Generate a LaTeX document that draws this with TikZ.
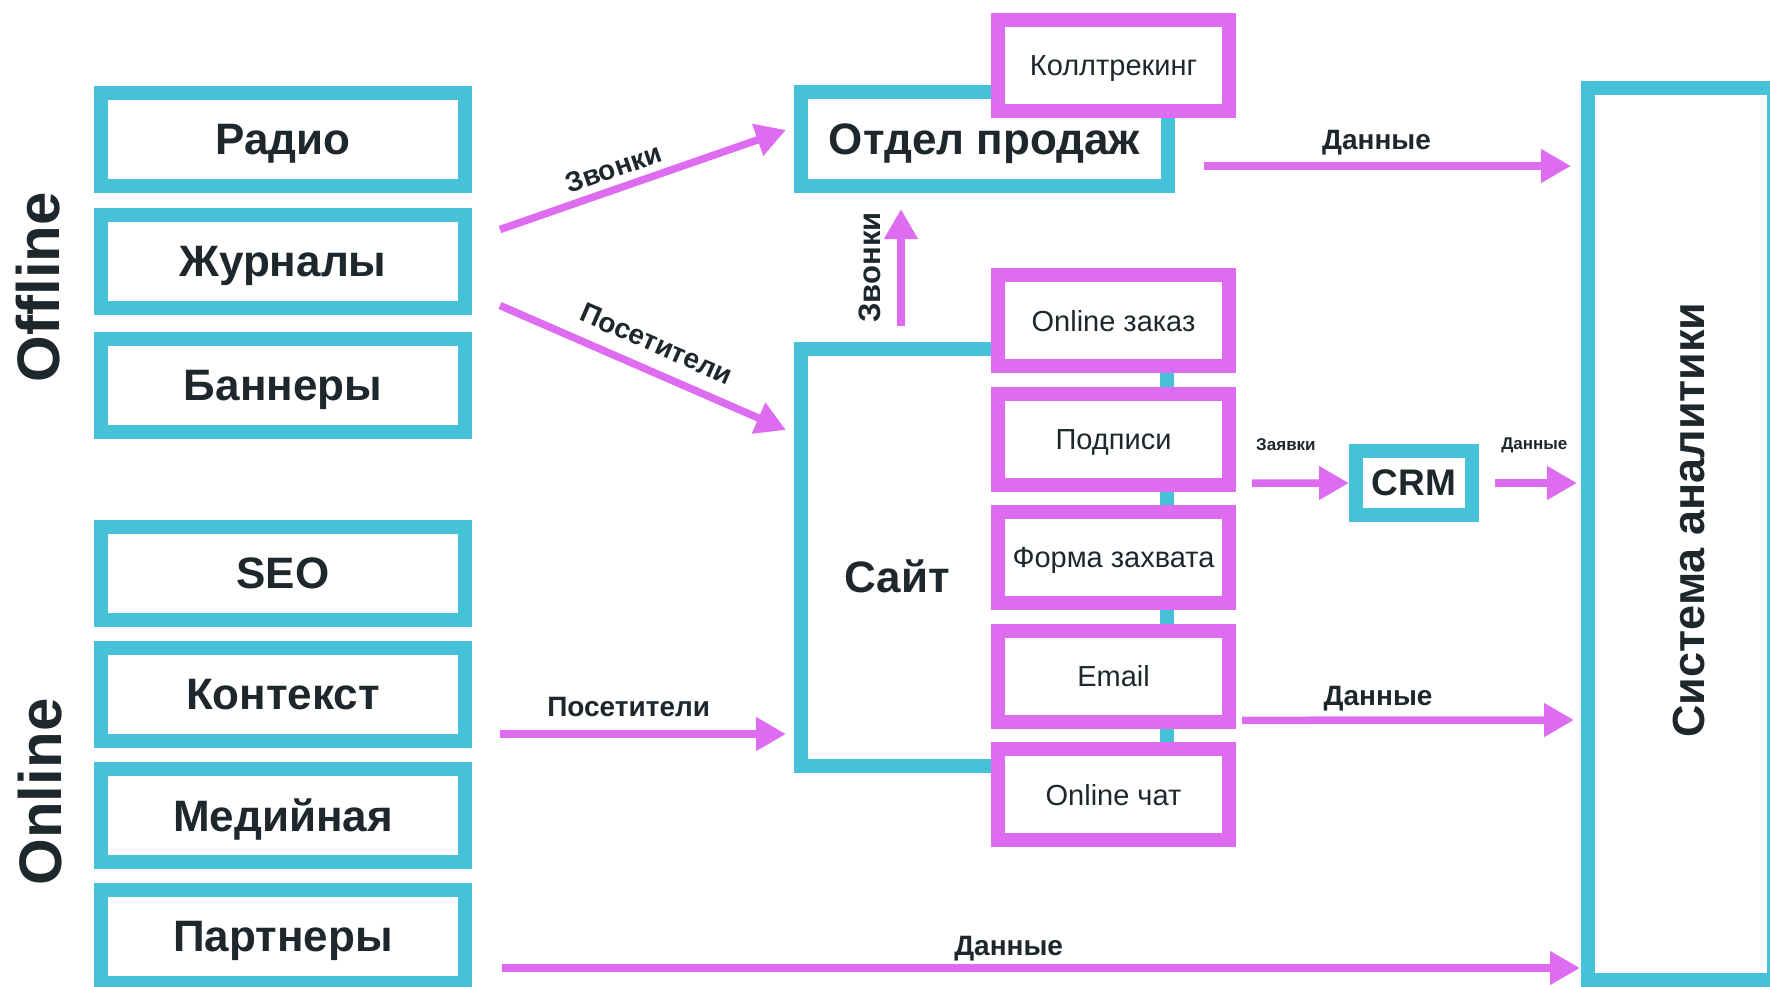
\documentclass[tikz,border=0pt]{standalone}
\usepackage{fontspec}
\setmainfont{Liberation Sans}
\usetikzlibrary{arrows.meta,positioning}
\definecolor{boxcyan}{HTML}{46C2D8}
\definecolor{linkpink}{HTML}{DD6CF0}
\definecolor{inkdark}{HTML}{1E282C}
\newcommand{\fsz}[1]{\fontsize{#1}{#1}\selectfont}

\begin{document}
\begin{tikzpicture}[
  x=1pt, y=-1pt,
  chan/.style={draw=boxcyan, line width=14pt, fill=white, inner sep=0pt,
               minimum width=364pt, minimum height=93pt, text depth=0pt,
               font=\fsz{44}\bfseries, text=inkdark},
  tool/.style={draw=linkpink, line width=14pt, fill=white, inner sep=0pt,
               minimum width=231pt, minimum height=91pt, text depth=0pt,
               font=\fsz{29}, text=inkdark},
  flow/.style={draw=linkpink, line width=7.5pt,
               -{Triangle[length=30pt,width=32pt]}},
  flowlbl/.style={font=\fsz{28}\bfseries, text=inkdark, inner sep=3pt},
  smalllbl/.style={font=\fsz{17}\bfseries, text=inkdark, inner sep=3pt},
  grouplbl/.style={font=\fsz{60}\bfseries, text=inkdark, rotate=90},
]
  \useasboundingbox (0,0) rectangle (1770,986);
  \fill[white] (0,0) rectangle (1770,986);

  % Channels, left column
  \foreach \id/\txt/\ypos in {radio/Радио/139, journals/Журналы/261.5,
      banners/Баннеры/385.5, seo/SEO/573, context/Контекст/694,
      media/Медийная/815, partners/Партнеры/936}
    \node[chan] (\id) at (283,\ypos) {\txt};

  \node[grouplbl] (offline) at (38.5,287) {Offline};
  \node[grouplbl] (online) at (40,792) {Online};

  % Receivers
  \node[chan, minimum width=367pt, minimum height=94pt] (sales)
    at (984.5,139) {Отдел продаж};
  \node[chan, minimum width=366pt, minimum height=417pt] (site)
    at (984,557.5) {};
  \node[font=\fsz{44}\bfseries, text=inkdark] (sitelbl) at (897,576) {Сайт};
  \node[chan, minimum width=116pt, minimum height=64pt,
        font=\fsz{37}\bfseries] (crm) at (1414,483) {CRM};
  \node[chan, minimum width=186pt, minimum height=892pt] (analytics)
    at (1681,534) {};
  \node[grouplbl, font=\fsz{45}\bfseries] (analyticslbl)
    at (1689,520) {Система аналитики};

  % Tracking tools
  \node[tool] (calltrack) at (1113.5,65.5) {Коллтрекинг};
  \foreach \id/\txt [count=\k from 0] in {order/Online заказ, subs/Подписи,
      form/Форма захвата, email/Email, chat/Online чат}
    \node[tool] (\id) at (1113.5,{320.5+118.6*\k}) {\txt};

  % Flows
  \draw[flow] ([xshift=28pt,yshift=32pt]journals.east)
    -- node[flowlbl, sloped, above=4pt, pos=0.42] (callsdiag) {Звонки}
    ([xshift=-8pt,yshift=9pt]sales.west);
  \draw[flow] ([xshift=28pt,yshift=-44pt]journals.east)
    -- node[flowlbl, sloped, above=11pt, pos=0.51] (visitdiag) {Посетители}
    ([xshift=-8pt,yshift=127.5pt]site.west);
  \draw[flow] ([xshift=28pt,yshift=-40pt]context.east)
    -- node[flowlbl, above=10pt, pos=0.45] (visithor) {Посетители}
    ([xshift=-8pt,yshift=-176.5pt]site.west);
  \draw[flow] ([xshift=-83pt,yshift=16pt]site.north)
    -- node[flowlbl, font=\fsz{31}\bfseries, sloped, above=13pt] (callsup) {Звонки}
    ([xshift=-83.5pt,yshift=-16pt]sales.south);
  \draw[flow] ([xshift=29pt,yshift=-27pt]sales.east)
    -- node[flowlbl, above=4pt, pos=0.47] (datatop) {Данные}
    ([xshift=-10pt,yshift=368pt]analytics.west);
  \draw[flow] ([xshift=16pt,yshift=-44pt]subs.east)
    -- node[smalllbl, above=26pt, pos=0.35] (leads) {Заявки}
    (crm.west);
  \draw[flow] ([xshift=16pt]crm.east)
    -- node[smalllbl, above=23pt, pos=0.48] (datacrm) {Данные}
    ([xshift=-4pt,yshift=51pt]analytics.west);
  \draw[flow] ([xshift=6pt,yshift=-44pt]email.east)
    -- node[flowlbl, above=2pt, pos=0.41] (datamail) {Данные}
    ([xshift=-7pt,yshift=-186pt]analytics.west);
  \draw[flow] ([xshift=30pt,yshift=-32pt]partners.east)
    -- node[flowlbl, above=0pt, pos=0.47] (databot) {Данные}
    ([xshift=-1pt,yshift=-434pt]analytics.west);
\end{tikzpicture}
\end{document}
